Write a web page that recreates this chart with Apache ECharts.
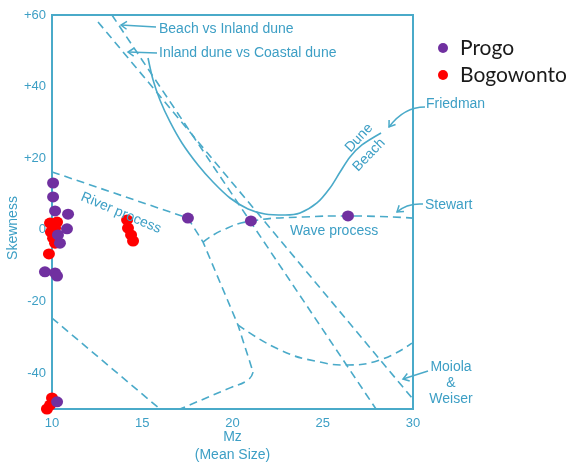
<!DOCTYPE html>
<html>
<head>
<meta charset="utf-8">
<script src="https://cdn.jsdelivr.net/npm/echarts@6/dist/echarts.min.js"></script>
<style>html,body{margin:0;padding:0;background:#fff;}#c{width:572px;height:466px;}</style>
</head>
<body>
<div id="c"></div>
<script>
// ---- data ----
const xTicks = [10, 15, 20, 25, 30];
const yTicks = [-40, -20, 0, 20, 40, 60];

const progo = [[10.06,13.1],[10.06,9.2],[10.17,5.3],[10.89,4.4],[10.83,0.3],[10.33,-1.4],[10.44,-3.7],
  [9.61,-11.7],[10.17,-12.0],[10.28,-12.9],[17.53,3.3],[21.02,2.5],[26.4,3.9],[10.28,-48.0]];
const bogowonto = [[9.89,1.9],[10.28,2.2],[10.17,0.5],[9.94,-0.6],[10.06,-2.3],[10.17,-3.7],[9.83,-6.7],
  [14.16,2.8],[14.21,0.5],[14.38,-1.4],[14.49,-3.1],[10.0,-46.9],[9.89,-48.9],[9.72,-50.0]];

// boundary lines of the diagram
const beachInland = [[13.32,60],[27.95,-50]];
const inlandCoastal = [[12.55,58.05],[29.94,-46.9]];
const friedman = [[15.32,48.0],[15.60,41.85],[15.98,36.27],[16.54,30.13],[17.20,24.27],[18.09,18.12],
  [18.92,13.38],[19.86,8.91],[20.86,5.84],[21.80,4.44],[22.91,4.17],[23.74,4.72],[24.68,7.52],
  [25.40,11.70],[25.96,16.17],[26.51,20.36],[27.17,23.71],[28.23,27.06]];
const riverUpper = [[10,16.2],[17.53,3.3],[18.37,-3.4],[20.30,-26.5],[21.14,-39.7]];
const riverLower = [[21.14,-39.7],[20.86,-41.9],[19.86,-44.1],[17.09,-50]];
const waveUpper = [[18.37,-3.4],[19.47,0],[21.08,2.5],[23.91,3.6],[26.51,3.9],[30,3.3]];
const waveLower = [[20.30,-26.5],[22.63,-33.5],[24.85,-36.9],[26.34,-37.7],[28.17,-36.3],[29.94,-31.6]];
const lowerLeft = [[10,-24.6],[15.98,-50]];

const TEAL = '#4aaac9';
const TXT = '#3d9fc5';
const chart = echarts.init(document.getElementById('c'));

function dashed(name, data, smooth) {
  return { name, type: 'line', data, symbol: 'none', smooth: smooth || false, silent: true, clip: false,
    lineStyle: { color: TEAL, width: 1.6, type: [8, 5] }, z: 2 };
}
function solid(name, data, smooth) {
  return { name, type: 'line', data, symbol: 'none', smooth: smooth || false, silent: true, clip: false,
    lineStyle: { color: TEAL, width: 1.6 }, z: 2 };
}
function head(tip, from, len) {
  const dx = from[0]-tip[0], dy = from[1]-tip[1];
  const L = Math.hypot(dx, dy); const bx = dx/L, by = dy/L;
  const a = 0.6, c = Math.cos(a), s = Math.sin(a);
  const p1 = [tip[0] + len*(bx*c - by*s), tip[1] + len*(bx*s + by*c)];
  const p2 = [tip[0] + len*(bx*c + by*s), tip[1] + len*(-bx*s + by*c)];
  return { type: 'polyline', shape: { points: [p1, tip, p2] }, style: { stroke: TEAL, lineWidth: 1.5, fill: null }, z: 10 };
}
function txt(text, x, y, opts) {
  opts = opts || {};
  return { type: 'text', x, y, rotation: opts.rot || 0, z: 10,
    style: { text, fill: TXT, font: (opts.size || 14) + 'px "Liberation Sans", Arial, sans-serif',
      align: opts.align || 'left', verticalAlign: 'middle' } };
}
const graphics = [
  txt('Beach vs Inland dune', 159, 29),
  { type: 'polyline', shape: { points: [[121,25],[156,27]] }, style: { stroke: TEAL, lineWidth: 1.5, fill: null }, z: 10 },
  head([121,25],[156,27],7),
  txt('Inland dune vs Coastal dune', 159, 53),
  { type: 'polyline', shape: { points: [[128,52],[157,53]] }, style: { stroke: TEAL, lineWidth: 1.5, fill: null }, z: 10 },
  head([128,52],[157,53],7),
  txt('Friedman', 426, 104),
  { type: 'bezierCurve', shape: { x1: 425, y1: 107, cpx1: 404, cpy1: 107, x2: 389, y2: 127 }, style: { stroke: TEAL, lineWidth: 1.5, fill: null }, z: 10 },
  head([389,127],[401,110],7),
  txt('Stewart', 425, 205),
  { type: 'bezierCurve', shape: { x1: 423, y1: 204, cpx1: 407, cpy1: 203, x2: 397, y2: 212 }, style: { stroke: TEAL, lineWidth: 1.5, fill: null }, z: 10 },
  head([397,212],[406,205],7),
  txt('Moiola', 451, 367, { align: 'center' }),
  txt('&', 451, 383, { align: 'center' }),
  txt('Weiser', 451, 399, { align: 'center' }),
  { type: 'polyline', shape: { points: [[428,371],[403,379]] }, style: { stroke: TEAL, lineWidth: 1.5, fill: null }, z: 10 },
  head([403,379],[428,371],7),
  txt('Wave process', 290, 231),
  txt('River process', 121, 213, { align: 'center', rot: -0.40 }),
  txt('Dune', 359, 138, { align: 'center', rot: 0.82 }),
  txt('Beach', 369, 155, { align: 'center', rot: 0.80 }),
  txt('Skewness', 13, 228, { align: 'center', rot: Math.PI/2 })
];

chart.setOption({
  animation: false,
  backgroundColor: '#fff',
  grid: { left: 52, right: 159, top: 15, bottom: 57, show: true, borderColor: TEAL, borderWidth: 2,
    containLabel: false, outerBoundsMode: 'none' },
  legend: {
    data: ['Progo', 'Bogowonto'], orient: 'vertical', left: 433, top: 31,
    icon: 'circle', itemWidth: 24, itemHeight: 10, itemGap: 3,
    textStyle: { fontFamily: 'Lato, sans-serif', fontSize: 21, color: '#1a1a1a', lineHeight: 24 }
  },
  xAxis: {
    type: 'value', min: 10, max: 30, interval: 5,
    name: 'Mz\n(Mean Size)', nameLocation: 'middle', nameGap: 19, nameMoveOverlap: false,
    nameTextStyle: { color: TXT, fontSize: 14, lineHeight: 18, fontFamily: '"Liberation Sans", Arial, sans-serif' },
    axisLine: { show: true, onZero: false, lineStyle: { color: TEAL, width: 2 } },
    axisTick: { show: false }, splitLine: { show: false },
    axisLabel: { color: TXT, fontSize: 13, margin: 8, fontFamily: '"Liberation Sans", Arial, sans-serif',
      formatter: v => xTicks.includes(v) ? String(v) : '' }
  },
  yAxis: {
    type: 'value', min: -50, max: 60, interval: 10,
    axisLine: { show: true, onZero: false, lineStyle: { color: TEAL, width: 2 } },
    axisTick: { show: false }, splitLine: { show: false },
    axisLabel: { color: TXT, fontSize: 13, margin: 6, fontFamily: '"Liberation Sans", Arial, sans-serif',
      formatter: v => yTicks.includes(v) ? (v > 0 ? '+' + v : String(v)) : '' }
  },
  graphic: graphics,
  series: [
    dashed('beachInland', beachInland),
    dashed('inlandCoastal', inlandCoastal),
    solid('friedman', friedman, 0.3),
    dashed('riverUpper', riverUpper),
    dashed('riverLower', riverLower, true),
    dashed('waveUpper', waveUpper, true),
    dashed('waveLower', waveLower, true),
    dashed('lowerLeft', lowerLeft),
    { name: 'Bogowonto', type: 'scatter', data: bogowonto, symbol: 'circle', symbolSize: [12, 11], clip: false,
      itemStyle: { color: '#ff0000', opacity: 1 }, z: 5 },
    { name: 'Progo', type: 'scatter', data: progo, symbol: 'circle', symbolSize: [12, 11], clip: false,
      itemStyle: { color: '#7030a0', opacity: 1 }, z: 6 }
  ]
});
</script>
</body>
</html>
